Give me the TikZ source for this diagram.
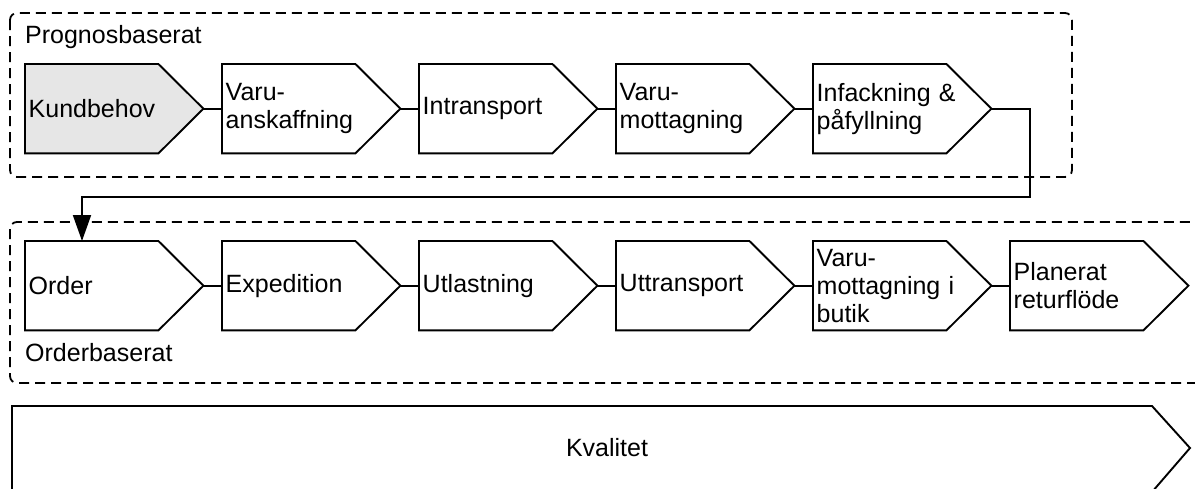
\documentclass[tikz,border=0pt]{standalone}
\usepackage{fontspec}
\setmainfont{Liberation Sans}
\usetikzlibrary{arrows.meta,backgrounds}
\definecolor{stepgray}{HTML}{E6E6E6}
\tikzset{
  stepbox/.style={rectangle, draw=none, anchor=north west, minimum height=89,
    inner xsep=3.5, inner ysep=0, text width=171, align=left,
    font=\fontsize{25}{28}\selectfont},
  stepline/.style={draw=black, line width=1.9, line join=miter},
  link/.style={draw=black, line width=1.9},
  groupbox/.style={draw=black, line width=1.8, dash pattern=on 10 off 6, rounded corners=7},
  grouplabel/.style={anchor=base west, inner sep=0, font=\fontsize{25}{28}\selectfont},
}
\begin{document}
\begin{tikzpicture}[x=1pt, y=-1pt]
  \useasboundingbox (0,0) rectangle (1195,488);

  % group frames
  \draw[groupbox] (10,13) rectangle (1072,177);
  \draw[groupbox] (10,222) rectangle (1215,383);
  \node[grouplabel] (lp) at (25,43) {Prognosbaserat};
  \node[grouplabel] (lo) at (25,361) {Orderbaserat};

  % forecast-driven chain
  \node[stepbox] (p1) at (25,64)  {Kundbehov};
  \node[stepbox] (p2) at (222,64) {Varu-\\anskaffning};
  \node[stepbox] (p3) at (419,64) {Intransport};
  \node[stepbox] (p4) at (616,64) {Varu-\\mottagning};
  \node[stepbox] (p5) at (813,64) {Infackning \&\\påfyllning};

  % order-driven chain
  \node[stepbox] (o1) at (25,241)   {Order};
  \node[stepbox] (o2) at (222,241)  {Expedition};
  \node[stepbox] (o3) at (419,241)  {Utlastning};
  \node[stepbox] (o4) at (616,241)  {Uttransport};
  \node[stepbox] (o5) at (813,241)  {Varu-\\mottagning i\\butik};
  \node[stepbox] (o6) at (1010,241) {Planerat\\returflöde};

  % pentagon outlines behind the labels
  \begin{scope}[on background layer]
    \foreach \n/\c in {p1/stepgray, p2/white, p3/white, p4/white, p5/white,
                       o1/white, o2/white, o3/white, o4/white, o5/white, o6/white}
      \draw[stepline, fill=\c] (\n.north west) -- ([xshift=-45]\n.north east)
        -- (\n.east) -- ([xshift=-45]\n.south east) -- (\n.south west) -- cycle;
  \end{scope}

  % links inside each chain
  \foreach \a/\b in {p1/p2, p2/p3, p3/p4, p4/p5, o1/o2, o2/o3, o3/o4, o4/o5, o5/o6}
    \draw[link] (\a.east) -- (\b.west);

  % hand-over from the forecast chain to the order chain
  \coordinate (bend) at (1030,197);
  \draw[link, -{Triangle[width=18,length=26]}] (p5.east) -| (bend) -| ([xshift=57]o1.north west);

  % quality band
  \node[inner sep=0, font=\fontsize{25}{28}\selectfont] (kv) at (607,448) {Kvalitet};
  \draw[stepline] (12,492) -- (12,406) -- (1152,406) -- (1190,448) -- (1152,492);
\end{tikzpicture}
\end{document}
